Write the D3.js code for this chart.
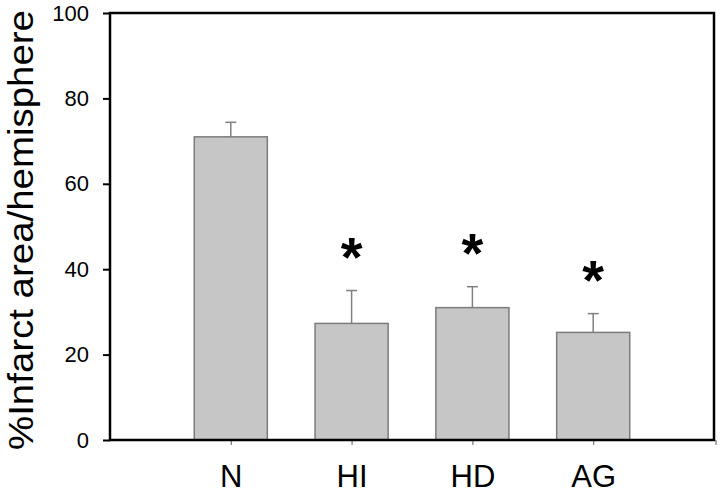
<!DOCTYPE html>
<html>
<head>
<meta charset="utf-8">
<script src="https://cdn.jsdelivr.net/npm/d3@7"></script>
<style>
  html, body { margin: 0; padding: 0; background: #fff; }
  svg { display: block; font-family: "Liberation Sans", Arial, Helvetica, sans-serif; }
</style>
</head>
<body>
<svg id="chart" width="720" height="496"></svg>
<script>
const categories = ["N", "HI", "HD", "AG"];
const means = [71.0, 27.3, 31.0, 25.2];
const errors = [3.4, 7.7, 4.9, 4.4];
const significant = [false, true, true, true];
const yTicks = [0, 20, 40, 60, 80, 100];
const yLabel = "%Infarct area/hemisphere";

(function () {
const svg = d3.select("#chart");
const mL = 110, mR = 714, mT = 13, mB = 440;

const x = d3.scalePoint().domain(categories).range([mL, mR]).padding(1);
const y = d3.scaleLinear().domain([0, 100]).range([mB, mT]);
const barW = x.step() * 0.605;

// bars
svg.append("g").selectAll("rect").data(categories).join("rect")
  .attr("x", (d) => x(d) - barW / 2)
  .attr("y", (d, i) => y(means[i]))
  .attr("width", barW)
  .attr("height", (d, i) => y(0) - y(means[i]))
  .attr("fill", "#c6c6c6")
  .attr("stroke", "#7c7c7c")
  .attr("stroke-width", 1.5);

// error bars
const eb = svg.append("g").attr("stroke", "#808080").attr("stroke-width", 1.5);
categories.forEach((c, i) => {
  eb.append("line").attr("x1", x(c)).attr("x2", x(c))
    .attr("y1", y(means[i])).attr("y2", y(means[i] + errors[i]));
  eb.append("line").attr("x1", x(c) - 5.5).attr("x2", x(c) + 5.5)
    .attr("y1", y(means[i] + errors[i])).attr("y2", y(means[i] + errors[i]));
});

// asterisks
svg.append("g").selectAll("text").data(categories.filter((c, i) => significant[i])).join("text")
  .attr("x", (d) => x(d))
  .attr("y", (d) => { const i = categories.indexOf(d); return y(means[i] + errors[i]) - 48 + 33; })
  .attr("text-anchor", "middle")
  .attr("font-size", 56)
  .attr("font-weight", "bold")
  .attr("fill", "#000")
  .text("*");

// y axis
const yAxis = svg.append("g").attr("transform", `translate(${mL},0)`)
  .call(d3.axisLeft(y).tickValues(yTicks).tickSize(7).tickPadding(14).tickFormat(d3.format("d")));
yAxis.select(".domain").remove();
yAxis.selectAll(".tick line").attr("stroke", "#000").attr("stroke-width", 2);
yAxis.selectAll(".tick text").attr("font-size", 22).attr("fill", "#000")
  .attr("font-family", "'Liberation Sans', Arial, sans-serif");

// x axis ticks
const xAxis = svg.append("g").attr("transform", `translate(0,${mB})`)
  .call(d3.axisBottom(x).tickSize(5).tickPadding(20));
xAxis.select(".domain").remove();
xAxis.selectAll(".tick line").attr("stroke", "#777").attr("stroke-width", 1.2);
xAxis.selectAll(".tick text").attr("font-size", 31).attr("fill", "#000")
  .attr("font-family", "'Liberation Sans', Arial, sans-serif");
svg.append("line").attr("x1", mR + 2).attr("x2", mR + 2)
  .attr("y1", mB).attr("y2", mB + 5).attr("stroke", "#777").attr("stroke-width", 1.2);

// frame
svg.append("path")
  .attr("d", `M${mL},${mT}H${mR}V${mB}H${mL}Z`)
  .attr("fill", "none").attr("stroke", "#000").attr("stroke-width", 2.5);

// y label
svg.append("text")
  .attr("transform", `translate(33,${(10 + 450) / 2}) rotate(-90)`)
  .attr("text-anchor", "middle")
  .attr("font-size", 35)
  .attr("textLength", 440)
  .attr("lengthAdjust", "spacingAndGlyphs")
  .attr("fill", "#000")
  .text(yLabel);
})();
</script>
</body>
</html>
